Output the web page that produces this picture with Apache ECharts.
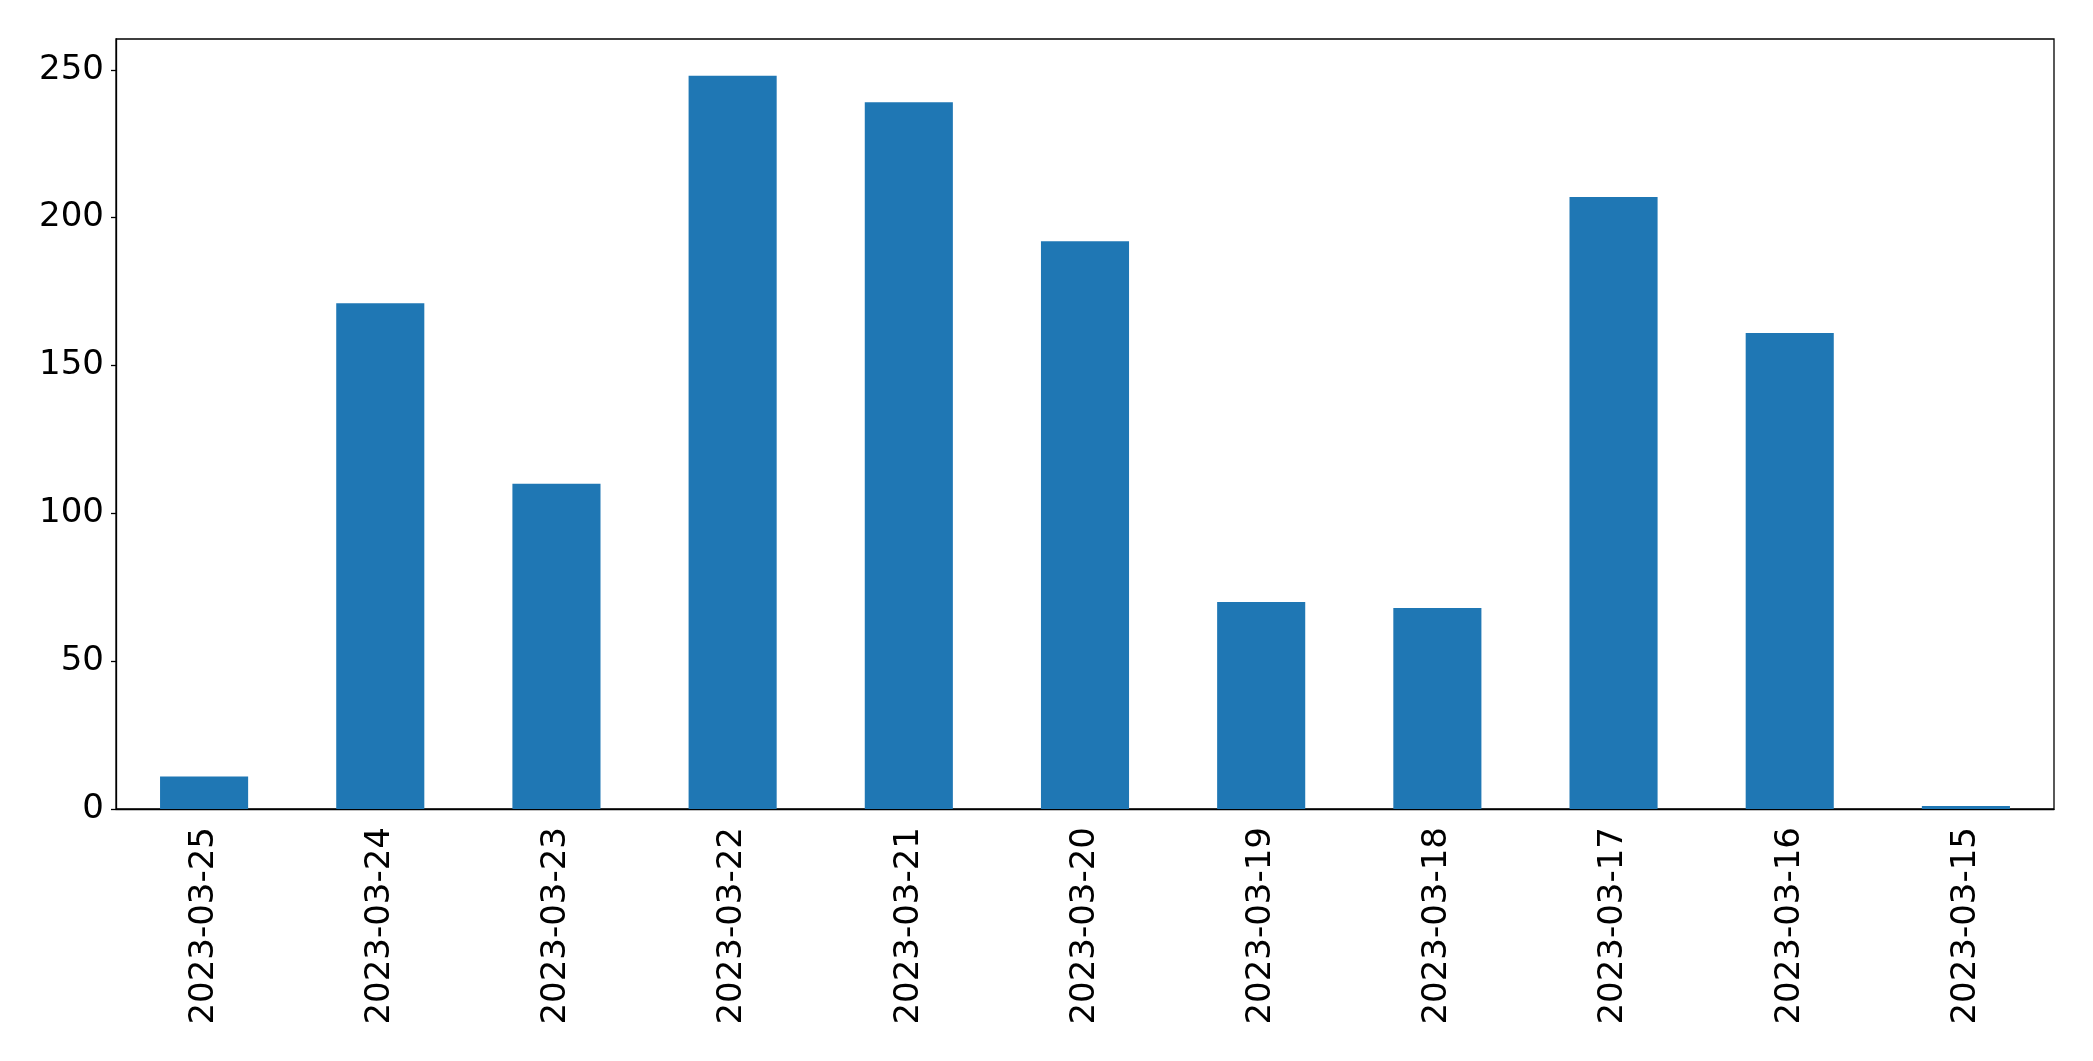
<!DOCTYPE html>
<html>
<head>
<meta charset="utf-8">
<script src="https://cdn.jsdelivr.net/npm/echarts@6/dist/echarts.min.js"></script>
<style>
html,body{margin:0;padding:0;background:#fff;}
#chart{width:2093px;height:1061px;}
</style>
</head>
<body>
<div id="chart"></div>
<script>
const categories = ['2023-03-25','2023-03-24','2023-03-23','2023-03-22','2023-03-21','2023-03-20','2023-03-19','2023-03-18','2023-03-17','2023-03-16','2023-03-15'];
const values = [11, 171, 110, 248, 239, 192, 70, 68, 207, 161, 1];
const yTicks = [0, 50, 100, 150, 200, 250];

const font = 'DejaVu Sans';
const chart = echarts.init(document.getElementById('chart'), null, {renderer: 'canvas'});
chart.setOption({
  animation: false,
  backgroundColor: '#ffffff',
  grid: {left: 116, top: 39, right: 39, bottom: 252, show: true, borderColor: '#000', borderWidth: 1.3, backgroundColor: 'transparent'},
  xAxis: {
    type: 'category',
    data: categories,
    axisLine: {lineStyle: {color: '#000', width: 1.3}},
    axisTick: {alignWithLabel: true, length: 5, lineStyle: {color: '#000', width: 1.3}},
    axisLabel: {rotate: 90, margin: 18, fontSize: 34, fontFamily: font, color: '#000'}
  },
  yAxis: {
    type: 'value',
    min: 0,
    max: 260.4,
    interval: 50,
    splitLine: {show: false},
    axisLine: {show: true, lineStyle: {color: '#000', width: 1.3}},
    axisTick: {show: true, length: 5, lineStyle: {color: '#000', width: 1.3}},
    axisLabel: {
      margin: 12, fontSize: 34, fontFamily: font, color: '#000',
      showMaxLabel: false,
      formatter: function (v) { return yTicks.indexOf(v) >= 0 ? String(v) : ''; }
    }
  },
  series: [{
    type: 'bar',
    data: values,
    barWidth: '50%',
    itemStyle: {color: '#1f77b4'}
  }]
});
</script>
</body>
</html>
